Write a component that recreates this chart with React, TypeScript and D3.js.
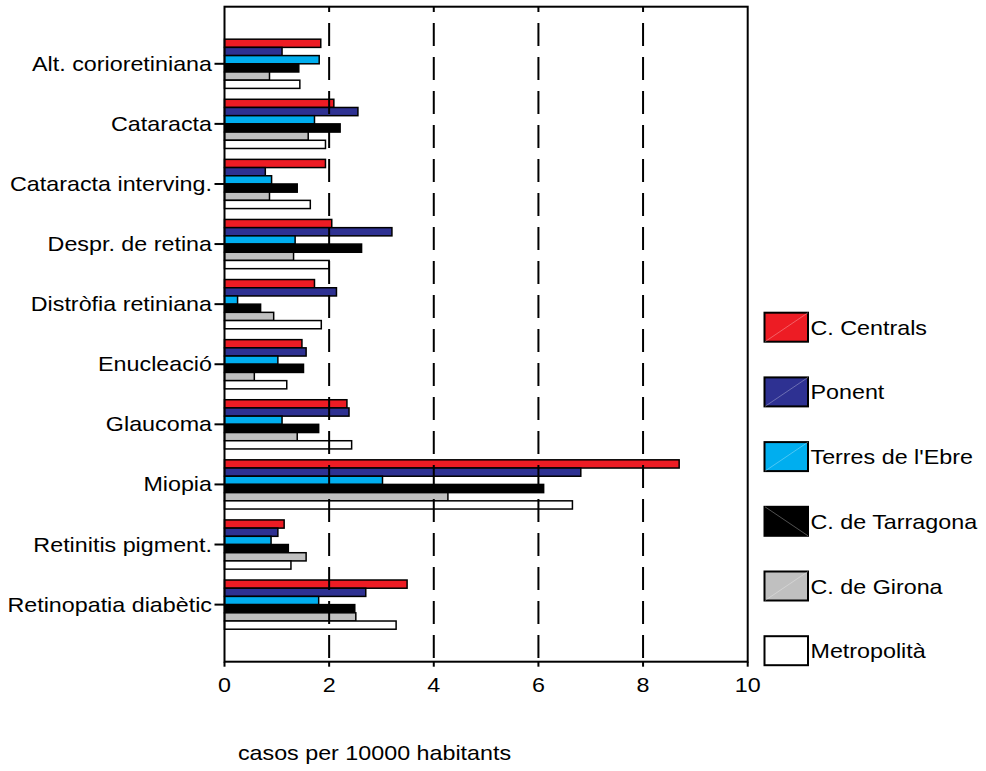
import React from "react";
import * as d3 from "d3";

const categories = [
  "Alt. corioretiniana",
  "Cataracta",
  "Cataracta interving.",
  "Despr. de retina",
  "Distròfia retiniana",
  "Enucleació",
  "Glaucoma",
  "Miopia",
  "Retinitis pigment.",
  "Retinopatia diabètic",
];

const seriesNames = [
  "C. Centrals",
  "Ponent",
  "Terres de l'Ebre",
  "C. de Tarragona",
  "C. de Girona",
  "Metropolità",
];

const cCentrals = [1.84, 2.09, 1.93, 2.05, 1.72, 1.48, 2.34, 8.69, 1.14, 3.49];
const ponent = [1.1, 2.55, 0.78, 3.2, 2.14, 1.56, 2.38, 6.81, 1.02, 2.7];
const terresEbre = [1.81, 1.72, 0.9, 1.35, 0.25, 1.02, 1.1, 3.02, 0.89, 1.8];
const cTarragona = [1.42, 2.21, 1.39, 2.62, 0.69, 1.51, 1.8, 6.1, 1.22, 2.49];
const cGirona = [0.86, 1.6, 0.86, 1.32, 0.94, 0.57, 1.39, 4.27, 1.56, 2.51];
const metropolita = [1.44, 1.93, 1.64, 2.0, 1.85, 1.19, 2.43, 6.65, 1.27, 3.28];

const seriesValues = [cCentrals, ponent, terresEbre, cTarragona, cGirona, metropolita];
const colors = ["#ED1C24", "#2E3192", "#00AEEF", "#000000", "#C0C0C0", "#FFFFFF"];
const xTicks = [0, 2, 4, 6, 8, 10];
const xTitle = "casos per 10000 habitants";

const FONT = "'Liberation Sans', Arial, Helvetica, sans-serif";
const SX = 1.165;

export default function App() {
  const left = 224.5, right = 747.7, top = 6.7, bottom = 661.7;
  const x = d3.scaleLinear().domain([0, 10]).range([left, right]);
  const y = d3.scalePoint<string>().domain(categories).range([top, bottom]).padding(0.95);
  const inner = d3.scaleBand<string>().domain(seriesNames).range([-24.6, 24.6]).padding(0);
  const bh = inner.bandwidth();

  const T = (px: number, py: number, txt: string, anchor: string, size = 20, key?: any) => (
    <text
      key={key}
      transform={`translate(${px},${py}) scale(${SX},1)`}
      textAnchor={anchor}
      fontFamily={FONT}
      fontSize={size}
      fill="#000"
    >
      {txt}
    </text>
  );

  const legTop = 312.7, legStep = 64.7;

  return (
    <svg width={986} height={771} style={{ position: "absolute", left: 0, top: 0 }}>
      <rect width={986} height={771} fill="#fff" />
      {/* bars */}
      {categories.map((c, ci) => (
        <g key={c}>
          {seriesNames.map((s, si) => {
            const v = seriesValues[si][ci];
            const y0 = (y(c) as number) + (inner(s) as number);
            return (
              <rect
                key={s}
                x={x(0)}
                y={y0}
                width={x(v) - x(0)}
                height={bh}
                fill={colors[si]}
                stroke="#000"
                strokeWidth={1.5}
              />
            );
          })}
        </g>
      ))}
      {/* dashed grid lines */}
      {xTicks.filter((t) => t > 0 && t < 10).map((t) => (
        <line
          key={t}
          x1={x(t)}
          x2={x(t)}
          y1={top}
          y2={bottom}
          stroke="#000"
          strokeWidth={2}
          strokeDasharray="23 11"
          strokeDashoffset={17.7}
        />
      ))}
      {/* frame */}
      <rect x={left} y={top} width={right - left} height={bottom - top} fill="none" stroke="#000" strokeWidth={2} />
      {/* x ticks */}
      {xTicks.map((t) => (
        <g key={t}>
          <line x1={x(t)} x2={x(t)} y1={bottom} y2={bottom + 5} stroke="#000" strokeWidth={2} />
          {T(x(t), 692, String(t), "middle", 20)}
        </g>
      ))}
      {/* y ticks and labels */}
      {categories.map((c) => (
        <g key={c}>
          <line x1={left - 10} x2={left} y1={y(c) as number} y2={y(c) as number} stroke="#000" strokeWidth={2} />
          {T(left - 12.5, (y(c) as number) + 7, c, "end", 20)}
        </g>
      ))}
      {T(374.5, 760, xTitle, "middle", 20)}
      {/* legend */}
      {seriesNames.map((s, i) => {
        const ly = legTop + i * legStep;
        const diag = i === 3
          ? <line x1={765} y1={ly} x2={808} y2={ly + 29} stroke="#888" strokeWidth={0.6} />
          : i === 5 ? null
          : <line x1={765} y1={ly + 29} x2={808} y2={ly} stroke="#ffffff" strokeOpacity={0.5} strokeWidth={0.6} />;
        return (
          <g key={s}>
            <rect x={764.5} y={ly} width={43.5} height={29} fill={colors[i]} stroke="#000" strokeWidth={2} />
            {diag}
            {T(810.5, ly + 22, s, "start", 20)}
          </g>
        );
      })}
    </svg>
  );
}
